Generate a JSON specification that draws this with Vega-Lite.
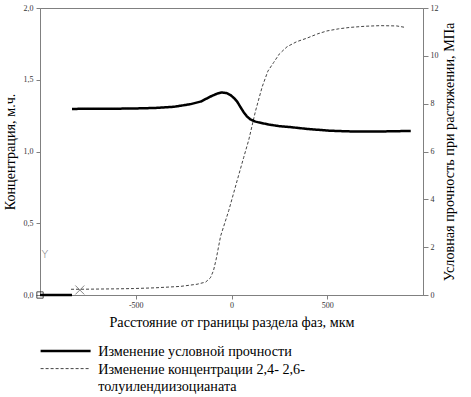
{
  "$schema": "https://vega.github.io/schema/vega-lite/v6.json",
  "width": 383,
  "height": 287,
  "autosize": {"type": "none"},
  "padding": {"left": 40, "top": 8, "right": 48, "bottom": 102},
  "background": "white",
  "config": {
    "view": {"stroke": "#808080", "strokeWidth": 1},
    "font": "Liberation Serif",
    "axis": {
      "domainColor": "#808080",
      "tickColor": "#808080",
      "labelFont": "Liberation Serif",
      "labelFontSize": 8,
      "labelColor": "#333333",
      "titleFont": "Liberation Serif",
      "titleFontSize": 14.2,
      "titleFontWeight": "normal",
      "titleColor": "#000000",
      "grid": false,
      "tickSize": 4
    },
    "legend": {
      "orient": "none",
      "legendX": 18.5,
      "legendY": 336,
      "symbolType": "M-5,0H5",
      "symbolSize": 100,
      "labelFont": "Liberation Serif",
      "labelFontSize": 14.2,
      "labelColor": "#000000",
      "labelLimit": 400,
      "labelOffset": 25.5,
      "labelBaseline": "alphabetic",
      "rowPadding": 1.5
    }
  },
  "datasets": {
    "strength": [
      {"series": "A", "seg": 1, "x": -1000, "v": 0},
      {"series": "A", "seg": 1, "x": -833, "v": 0},
      {"series": "A", "seg": 2, "x": -833, "v": 7.78},
      {"series": "A", "seg": 2, "x": -700, "v": 7.79},
      {"series": "A", "seg": 2, "x": -600, "v": 7.79},
      {"series": "A", "seg": 2, "x": -500, "v": 7.8},
      {"series": "A", "seg": 2, "x": -400, "v": 7.82},
      {"series": "A", "seg": 2, "x": -300, "v": 7.87},
      {"series": "A", "seg": 2, "x": -214, "v": 7.98},
      {"series": "A", "seg": 2, "x": -160, "v": 8.09},
      {"series": "A", "seg": 2, "x": -109, "v": 8.3},
      {"series": "A", "seg": 2, "x": -75, "v": 8.42},
      {"series": "A", "seg": 2, "x": -52, "v": 8.47},
      {"series": "A", "seg": 2, "x": -25, "v": 8.44},
      {"series": "A", "seg": 2, "x": -5, "v": 8.36},
      {"series": "A", "seg": 2, "x": 15, "v": 8.22},
      {"series": "A", "seg": 2, "x": 30, "v": 8.08},
      {"series": "A", "seg": 2, "x": 45, "v": 7.88},
      {"series": "A", "seg": 2, "x": 63, "v": 7.65},
      {"series": "A", "seg": 2, "x": 80, "v": 7.47},
      {"series": "A", "seg": 2, "x": 99, "v": 7.34},
      {"series": "A", "seg": 2, "x": 125, "v": 7.25},
      {"series": "A", "seg": 2, "x": 151, "v": 7.2},
      {"series": "A", "seg": 2, "x": 200, "v": 7.12},
      {"series": "A", "seg": 2, "x": 250, "v": 7.06},
      {"series": "A", "seg": 2, "x": 307, "v": 7.02},
      {"series": "A", "seg": 2, "x": 400, "v": 6.94},
      {"series": "A", "seg": 2, "x": 464, "v": 6.9},
      {"series": "A", "seg": 2, "x": 510, "v": 6.87},
      {"series": "A", "seg": 2, "x": 620, "v": 6.84},
      {"series": "A", "seg": 2, "x": 700, "v": 6.84},
      {"series": "A", "seg": 2, "x": 800, "v": 6.84},
      {"series": "A", "seg": 2, "x": 936, "v": 6.86}
    ],
    "conc": [
      {"series": "B", "x": -838, "c": 0.04},
      {"series": "B", "x": -792, "c": 0.04},
      {"series": "B", "x": -600, "c": 0.043},
      {"series": "B", "x": -510, "c": 0.045},
      {"series": "B", "x": -400, "c": 0.05},
      {"series": "B", "x": -266, "c": 0.06},
      {"series": "B", "x": -180, "c": 0.075},
      {"series": "B", "x": -135, "c": 0.09},
      {"series": "B", "x": -110, "c": 0.12},
      {"series": "B", "x": -94, "c": 0.17},
      {"series": "B", "x": -80, "c": 0.25},
      {"series": "B", "x": -57, "c": 0.41},
      {"series": "B", "x": -14, "c": 0.59},
      {"series": "B", "x": 30, "c": 0.8},
      {"series": "B", "x": 64, "c": 0.96},
      {"series": "B", "x": 90, "c": 1.08},
      {"series": "B", "x": 125, "c": 1.28},
      {"series": "B", "x": 160, "c": 1.45},
      {"series": "B", "x": 190, "c": 1.56},
      {"series": "B", "x": 220, "c": 1.62},
      {"series": "B", "x": 250, "c": 1.68},
      {"series": "B", "x": 290, "c": 1.73},
      {"series": "B", "x": 340, "c": 1.765},
      {"series": "B", "x": 394, "c": 1.79},
      {"series": "B", "x": 450, "c": 1.82},
      {"series": "B", "x": 498, "c": 1.84},
      {"series": "B", "x": 560, "c": 1.855},
      {"series": "B", "x": 620, "c": 1.865},
      {"series": "B", "x": 700, "c": 1.873},
      {"series": "B", "x": 776, "c": 1.877},
      {"series": "B", "x": 863, "c": 1.875},
      {"series": "B", "x": 906, "c": 1.865}
    ],
    "markers": [
      {"kind": "square", "x": -1000, "c": 0, "t": ""},
      {"kind": "cross", "x": -792, "c": 0.035, "t": ""},
      {"kind": "text", "x": -975, "c": 0.28, "t": "Y"}
    ]
  },
  "layer": [
    {
      "layer": [
        {
          "data": {"name": "conc"},
          "mark": {"type": "line"},
          "encoding": {
            "x": {
              "field": "x", "type": "quantitative",
              "scale": {"domain": [-1000, 1000], "nice": false},
              "axis": {
                "values": [-500, 0, 500],
                "labelExpr": "'' + datum.value",
                "title": "Расстояние от границы раздела фаз, мкм",
                "labelPadding": 2,
                "titlePadding": 6
              }
            },
            "y": {
              "field": "c", "type": "quantitative",
              "scale": {"domain": [0, 2], "nice": false},
              "axis": {
                "orient": "left",
                "values": [0, 0.5, 1, 1.5, 2],
                "labelExpr": "replace(format(datum.value, '.1f'), '.', ',')",
                "title": "Концентрация, м.ч.",
                "labelPadding": 3,
                "titlePadding": 6
              }
            },
            "color": {
              "field": "series", "type": "nominal",
              "scale": {"domain": ["A", "B"], "range": ["#000000", "#444444"]},
              "legend": {
                "title": null,
                "labelExpr": "datum.value == 'A' ? 'Изменение условной прочности' : ['Изменение концентрации 2,4- 2,6-', 'толуилендиизоцианата']",
                "encode": {"labels": {"update": {"dy": {"value": 5}, "lineHeight": {"value": 17.5}}}}
              }
            },
            "strokeDash": {
              "field": "series", "type": "nominal",
              "scale": {"domain": ["A", "B"], "range": [[1, 0], [3, 2]]},
              "legend": {"title": null}
            },
            "strokeWidth": {
              "field": "series", "type": "nominal",
              "scale": {"domain": ["A", "B"], "range": [2.5, 1]},
              "legend": {"title": null}
            }
          }
        },
        {
          "data": {"name": "markers"},
          "transform": [{"filter": "datum.kind == 'square'"}],
          "mark": {"type": "point", "shape": "square", "size": 40, "filled": false, "color": "#000000", "strokeWidth": 1},
          "encoding": {
            "x": {"field": "x", "type": "quantitative"},
            "y": {"field": "c", "type": "quantitative", "title": "Концентрация, м.ч."}
          }
        },
        {
          "data": {"name": "markers"},
          "transform": [{"filter": "datum.kind == 'cross'"}],
          "mark": {"type": "point", "shape": "M-1,-1L1,1M-1,1L1,-1", "size": 80, "filled": false, "color": "#555555", "strokeWidth": 1},
          "encoding": {
            "x": {"field": "x", "type": "quantitative"},
            "y": {"field": "c", "type": "quantitative", "title": "Концентрация, м.ч."}
          }
        },
        {
          "data": {"name": "markers"},
          "transform": [{"filter": "datum.kind == 'text'"}],
          "mark": {"type": "text", "font": "DejaVu Sans", "fontSize": 11, "fontWeight": 200, "color": "#777777"},
          "encoding": {
            "x": {"field": "x", "type": "quantitative"},
            "y": {"field": "c", "type": "quantitative", "title": "Концентрация, м.ч."},
            "text": {"field": "t"}
          }
        }
      ]
    },
    {
      "data": {"name": "strength"},
      "mark": {"type": "line"},
      "encoding": {
        "x": {"field": "x", "type": "quantitative"},
        "y": {
          "field": "v", "type": "quantitative",
          "scale": {"domain": [0, 12], "nice": false},
          "axis": {
            "orient": "right",
            "values": [0, 2, 4, 6, 8, 10, 12],
            "labelExpr": "'' + datum.value",
            "title": "Условная прочность при растяжении, МПа",
            "titleAngle": 270,
            "tickSize": 5,
            "labelPadding": 2,
            "titlePadding": 18
          }
        },
        "detail": {"field": "seg"},
        "color": {"field": "series", "type": "nominal", "legend": {"title": null}},
        "strokeDash": {"field": "series", "type": "nominal", "legend": {"title": null}},
        "strokeWidth": {"field": "series", "type": "nominal", "legend": {"title": null}}
      }
    }
  ],
  "resolve": {"scale": {"y": "independent"}}
}
